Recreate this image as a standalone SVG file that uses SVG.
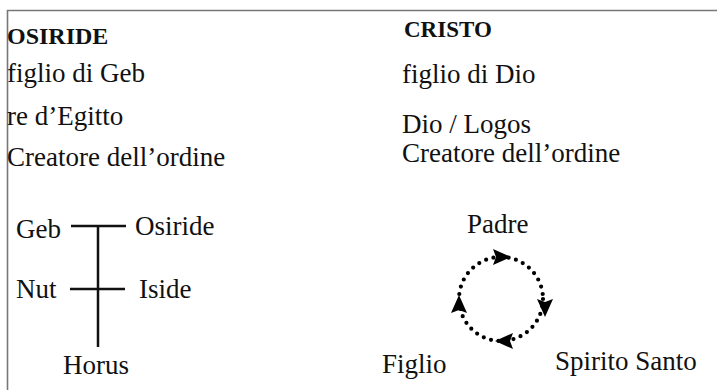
<svg xmlns="http://www.w3.org/2000/svg" width="717" height="390" viewBox="0 0 717 390">
<style>
text{font-family:"Liberation Serif","Times New Roman",serif;font-size:27px;fill:#111}
.h{font-weight:bold;font-size:24px}
.ln{stroke:#111;stroke-width:2.5;fill:none}
.dot{stroke:#000;stroke-width:4.2;stroke-linecap:round;stroke-dasharray:0 7.6;fill:none}
.ah{fill:#000}
</style>
<rect width="717" height="390" fill="#fff"/>
<path d="M7.5 390V10.5H717" stroke="#777" stroke-width="1.6" fill="none"/>
<g id="osiride-text">
<text class="h" x="7" y="44">OSIRIDE</text>
<text x="7" y="82">figlio di Geb</text>
<text x="7" y="125">re d’Egitto</text>
<text x="7" y="166">Creatore dell’ordine</text>
</g>
<g id="cristo-text">
<text class="h" x="404" y="37" style="font-size:23px">CRISTO</text>
<text x="402" y="83">figlio di Dio</text>
<text x="402" y="133">Dio / Logos</text>
<text x="402" y="162">Creatore dell’ordine</text>
</g>
<g id="genealogy">
<g id="geb"><text x="16" y="238">Geb</text></g>
<g id="osiride"><text x="135" y="235">Osiride</text></g>
<g id="nut"><text x="16" y="298">Nut</text></g>
<g id="iside"><text x="139" y="298">Iside</text></g>
<g id="horus"><text x="63" y="374">Horus</text></g>
</g>
<g id="trinity">
<g id="padre"><text x="467" y="233">Padre</text></g>
<g id="figlio"><text x="382" y="373">Figlio</text></g>
<g id="spirito"><text x="555" y="370">Spirito Santo</text></g>
</g>
<g id="connectors">
<path class="ln" d="M71 226H126M98 226V347M70 289H125"/>
<circle class="dot" cx="501" cy="299" r="42"/>
<polygon class="ah" points="511,257 493,249 496,257 493,265"/>
<polygon class="ah" points="545,317 537,299 545,302 553,299"/>
<polygon class="ah" points="495,341 513,333 510,341 513,349"/>
<polygon class="ah" points="459,295 451,313 459,310 467,313"/>
</g>
</svg>
